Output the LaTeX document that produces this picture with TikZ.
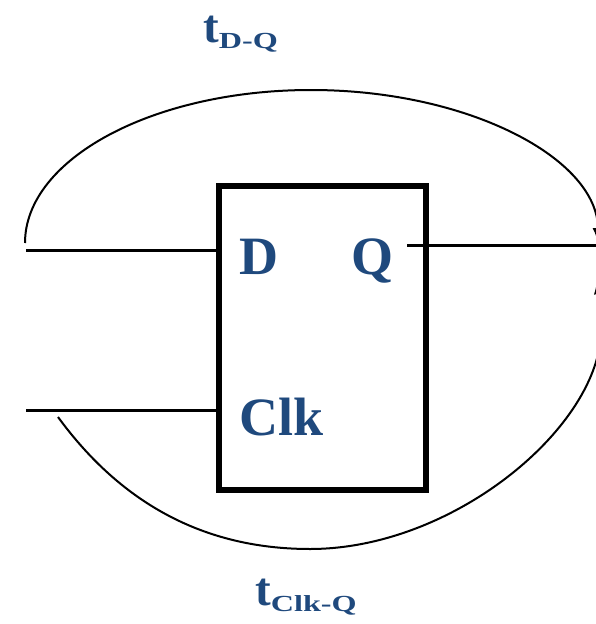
\documentclass[tikz,border=0pt]{standalone}
\usepackage{fontspec}
\setmainfont{Liberation Serif}
\usepackage{graphicx}
\usetikzlibrary{arrows.meta}
\definecolor{lblue}{HTML}{1F497D}
\tikzset{
  lbl/.style={text=lblue, font=\fontsize{54}{54}\selectfont\bfseries, inner sep=0pt, anchor=base west},
  tlbl/.style={text=lblue, font=\fontsize{47}{47}\selectfont\bfseries, inner sep=0pt, anchor=base west},
  wire/.style={line width=3pt},
  timing/.style={line width=2pt, -{Latex[length=15pt,width=11pt]}},
  ffbox/.style={draw, line width=6pt, rectangle, minimum width=207pt, minimum height=304pt, inner sep=0pt}
}
\newcommand{\subtxt}[1]{\raisebox{-6pt}{\fontsize{23}{23}\selectfont\bfseries\scalebox{1.4}[1]{#1}}}
\begin{document}
\begin{tikzpicture}[x=1pt,y=-1pt]
\useasboundingbox (0,0) rectangle (596,624);
\clip (0,0) rectangle (596,624);
% flip-flop box
\node[ffbox] (box) at (322.5,338) {};
% labels
\node[lbl] (dlab) at (239,274) {D};
\node[lbl] (qlab) at (351,274) {Q};
\node[lbl] (clklab) at (239,435) {Clk};
\node[tlbl] (tdq) at (203,42) {t\subtxt{D-Q}};
\node[tlbl] (tclkq) at (255,605) {t\subtxt{Clk-Q}};
% wires
\coordinate (dIn) at (26,250);
\coordinate (clkIn) at (26,410);
\coordinate (qStart) at (407,245);
\coordinate (qEnd) at (610,245);
\draw[wire] (dIn) -- (dIn -| box.west);
\draw[wire] (clkIn) -- (clkIn -| box.west);
\draw[wire] (qStart) -- (qEnd);
% timing arcs
\coordinate (topStart) at (25,243);
\coordinate (topEnd) at (598,243);
\draw[timing] (topStart) .. controls (25,159) and (153,90) .. (311,90)
  .. controls (469,90) and (598,159) .. (topEnd);
\coordinate (botStart) at (58,417);
\coordinate (botEnd) at (597,279);
\draw[timing] (botStart) .. controls (115,495) and (195,549) .. (310,549)
  .. controls (455,549) and (601,425) .. (601,330)
  .. controls (601,305) and (599,292) .. (botEnd);
\end{tikzpicture}
\end{document}
